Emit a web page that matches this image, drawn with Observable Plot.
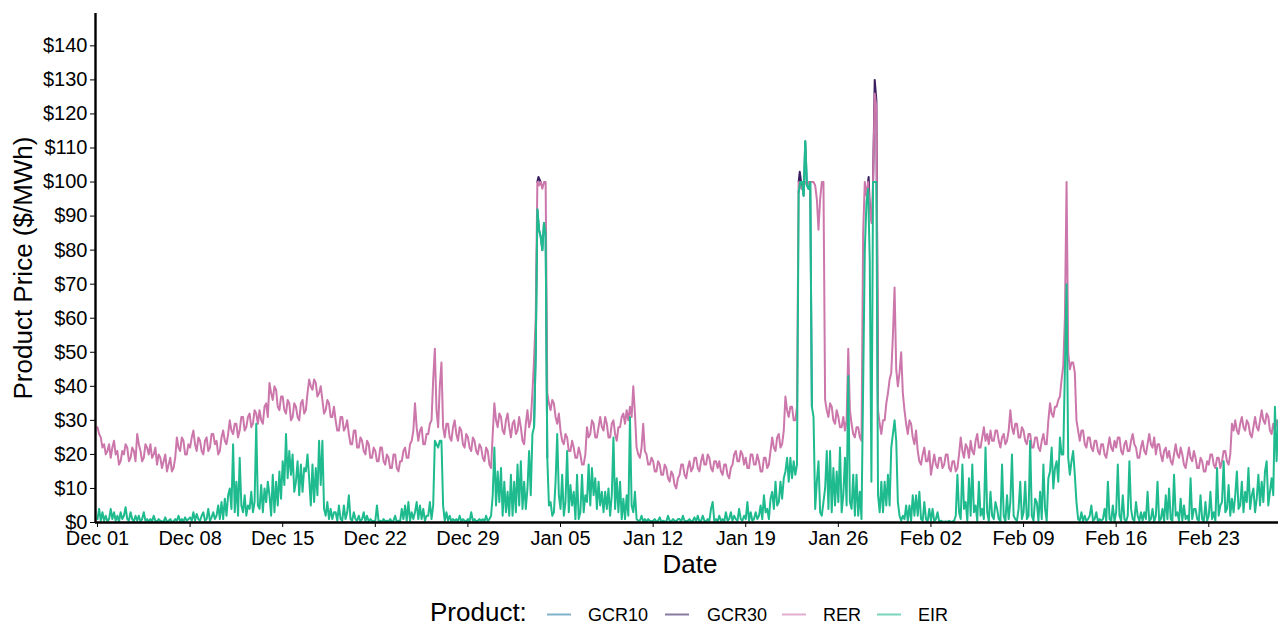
<!DOCTYPE html>
<html><head><meta charset="utf-8">
<script src="https://cdn.jsdelivr.net/npm/d3@7"></script>
<script src="https://cdn.jsdelivr.net/npm/@observablehq/plot@0.6"></script>
<style>
html,body{margin:0;padding:0;background:#fff;overflow:hidden;}
#chart{width:1278px;height:627px;font-family:"Liberation Sans",Arial,Helvetica,sans-serif;}
#chart svg{display:block;}
</style></head><body><div id="chart"></div>
<script>
// ---- categories / styling ----
const products = ["GCR10", "GCR30", "RER", "EIR"];
const productColors = ["#2b7fa8", "#3b1e5f", "#cc77ab", "#1fbb8f"];

// ---- main series: one reading every 3 h from Dec 01 00:00 (8 per day, one row per day) ----
const startIso = "2018-12-01T00:00:00Z";
const stepHours = 3;

// RER ($/MWh)
const rerDec = [
 28,26,25,22,23,20,21,23,  19,22,24,20,21,17,18,21,  20,23,22,18,19,22,21,18,  26,23,21,18,19,23,22,20,
 23,19,20,22,17,20,19,16,  18,20,15,17,19,15,16,19,  25,22,21,25,24,20,20,23,  22,25,27,23,21,25,24,21,
 20,24,25,21,22,26,26,23,  24,20,21,25,27,24,23,26,  30,27,26,29,29,25,27,31,  31,27,28,31,32,28,29,33,
 32,29,33,30,29,34,35,31,  41,38,36,40,39,34,33,37,  37,33,32,36,35,30,31,35,  34,31,30,35,36,32,33,38,
 42,40,39,42,41,37,38,40,  36,32,33,36,35,31,31,34,  30,27,27,31,31,27,28,30,  26,23,23,27,27,22,22,25,
 24,21,20,24,23,19,19,22,  21,18,18,22,22,18,17,20,  19,16,16,20,20,16,15,18,  18,21,22,19,19,23,24,27,
 35,28,24,27,28,23,23,26,  26,29,30,42,51,33,28,40,  47,28,25,29,29,25,24,28,  30,26,24,28,27,23,22,26,
 25,22,21,25,24,21,20,23,  22,19,18,22,21,17,16,26,  35,30,28,32,31,27,26,30
];
const rerJan = [
 32,28,25,29,30,26,27,31,  28,24,23,29,33,28,30,38,  48,60,100,99,100,98,100,100,  38,35,33,36,35,31,29,32,
 27,24,23,26,25,21,21,24,  22,19,19,22,20,17,17,20,  28,25,26,30,29,25,25,28,  31,28,27,31,29,25,25,29,
 30,26,24,28,28,31,32,29,  33,30,34,31,40,32,22,20,  19,22,29,21,20,17,17,19,  18,15,15,18,17,14,14,17,
 16,13,12,15,14,11,10,13,  14,17,17,14,13,16,18,15,  16,19,19,16,15,18,20,17,  17,20,19,16,15,18,18,16,
 18,15,14,17,17,14,13,16,  17,20,21,18,18,21,20,17,  19,16,16,20,20,17,17,20,  18,15,15,19,19,16,17,21,
 25,22,21,25,26,22,23,27,  37,33,31,34,34,30,30,34,  100,99,98,100,100,99,100,100,  100,100,99,95,86,95,100,100,
 36,33,31,35,34,30,29,33,  31,28,28,31,27,30,51,33,  29,26,25,28,28,25,24,85,  100,96,100,92,88,100,126,122,
 33,29,26,30,30,35,38,42,  44,55,69,45,40,44,50,38,  33,29,26,30,29,25,23,27
];
const rerFeb = [
 21,18,17,20,22,18,18,21,  14,17,20,17,16,19,19,16,  17,20,20,16,15,18,18,15,  16,20,25,21,19,23,22,19,
 24,21,20,24,26,22,22,25,  28,24,26,23,27,24,24,27,  27,24,22,25,26,23,24,27,  33,28,26,29,29,25,25,28,
 27,24,23,26,26,22,22,25,  25,22,21,24,26,23,23,30,  35,32,31,34,34,36,37,42,  46,60,100,50,45,47,47,44,
 30,27,24,27,27,23,22,25,  25,22,21,24,24,21,20,23,  23,20,19,22,25,22,21,24,  22,25,25,21,20,23,24,21,
 21,24,26,23,22,19,19,22,  24,21,20,23,26,23,22,25,  20,23,23,20,18,21,22,19,  21,18,17,20,23,20,19,22,
 20,17,16,19,22,19,18,21,  19,16,16,19,18,15,15,18,  17,20,20,17,16,19,19,16,  18,21,21,18,17,20,29,27,
 30,27,26,29,31,28,27,30,  29,26,25,28,31,28,27,30,  33,30,29,32,31,27,26,29,  27,30,28
];

// EIR ($/MWh)
const eirDec = [
 1,4,0.5,3,0.5,2,0.3,1,  4,1,3,0.5,2,0.3,3,1,  2,4.5,1,0.5,3,1,0.3,2,  0.5,2,0.3,1,3,0.5,1,0.3,
 1,0.3,2,0.5,0.3,1,0.5,0.3,  0.3,1.5,0.2,0.5,1,0.2,0.3,1,  0.5,2,0.3,1,0.3,1.5,0.5,1,  1.5,0.5,3,0.5,2.5,1,0.5,2,
 3,0.5,1,4,0.5,1.5,3,1,  2,5,1,6,1,7,2,8,  10,4,23,3,12,2,19,5,  3,8,2,5,4,9,3,6,
 29,5,4,11,3,10,6,12,  8,2,14,3,12,5,15,7,  18,11,26,13,21,14,20,9,  12,18,8,17,9,16,15,20,
 13,5,17,6,16,8,24,11,  24,4,2,6,1,4,1,3,  3,0.5,5,1,0.5,5,1,3,  8,1,0.5,3,1,0.5,2,0.3,
 1,3,0.3,2,0.3,1,0.5,0.3,  0.5,5,0.3,0.5,0.2,1,0.3,0.5,  0.3,1,0.2,0.5,2,0.2,0.5,0.3,  4,1,5,0.5,6,0.5,3,1,
 3,6,1,5,1,4,0.5,2,  2,6,1,5,24,23,22,24,  24,5,0.5,3,0.5,2,0.3,1,  0.5,1,0.3,2,0.3,1,0.5,0.3,
 1,0.3,3,0.5,1,0.3,0.5,1,  0.5,1,0.3,2,0.3,1,2,8,  22,5,15,6,16,2,12,3
];
const eirJan = [
 9,2,14,2,12,3,17,5,  18,4,12,4,10,21,8,26,  28,50,92,86,84,80,88,85,  19,5,6,2,3,12,26,8,
 4,14,2,6,21,3,11,5,  9,1,14,1,3,14,3,8,  6,17,5,16,8,13,4,12,  5,9,3,9,4,10,2,8,
 25,4,13,3,12,1,7,1,  8,2,31,5,3,9,1,0.5,  0.5,2,0.3,1,0.3,1,0.5,0.3,  0.5,1,0.2,0.5,1.5,0.2,0.5,0.3,
 0.3,2,0.5,0.3,1,0.5,0.3,1,  1,0.3,2,0.5,0.3,0.5,1,0.3,  0.5,1.5,0.3,2,0.3,0.5,2,0.5,  0.3,1,0.5,4,6,0.5,1,0.3,
 2,0.5,1,0.3,3,0.5,1,3,  0.5,2,1,0.5,4,1,0.5,2,  1,6,0.5,3,0.5,1,3,1,  2,5,1,8,3,4,1,7,
 9,4,12,5,6,12,7,13,  15,19,12,19,13,18,14,17,  97,100,100,96,112,99,98,100,  34,31,4,12,18,3,2,6,
 10,21,4,21,3,16,5,15,  6,22,3,8,19,5,43,6,  4,14,2,14,2,9,1,40,  80,94,98,77,12,100,100,100,
 8,3,12,3,12,5,14,5,  22,26,30,24,6,2,0.5,2,  1,5,0.5,5,0.5,8,2,8
];
const eirFeb = [
 2,9,1,0.5,6,1,0.3,4,  0.5,4,0.3,1,3,0.2,0.5,0.3,  0.2,0.3,0.2,0.5,0.2,0.3,0.5,2,  14,3,1,17,4,6,0.5,13,
 2,17,3,5,0.5,12,2,4,  1,22,3,0.5,9,2,1,6,  4,1,0.5,17,2,0.3,8,1,  6,20,2,1,0.5,4,12,1,
 3,12,1,2,24,2,0.5,7,  6,0.5,9,1,17,4,0.5,13,  15,22,10,16,18,12,25,20,  20,45,70,19,14,18,21,14,
 6,1,0.5,3,0.3,2,0.5,1,  2,5,0.5,1,3,0.3,1,0.5,  1,4,0.5,12,1,0.5,5,0.3,  3,17,2,0.5,8,1,0.3,2,
 18,4,1,0.5,6,2,0.5,3,  0.5,3,1,9,0.5,1,4,0.3,  2,12,0.5,1,4,0.3,8,1,  10,1,0.5,14,2,3,0.5,7,
 0.5,5,1,2,0.3,13,1,4,  4,1,0.5,8,1,0.3,6,0.5,  2,9,1,3,0.5,16,2,5,  6,18,3,4,11,2,7,3,
 8,15,4,5,12,3,9,6,  16,4,8,10,3,7,14,5,  12,6,15,18,5,9,13,8,  34,18,30
];

// GCR30 / GCR10: only the stretches where they can be told apart (null = gap)
const gcr30Dates = [
 "2019-01-03T06:00Z","2019-01-03T08:00Z","2019-01-03T12:00Z","2019-01-03T13:00Z",
 "2019-01-23T00:00Z","2019-01-23T02:00Z","2019-01-23T06:00Z","2019-01-23T07:00Z",
 "2019-01-28T06:00Z","2019-01-28T07:00Z","2019-01-28T09:00Z","2019-01-28T10:00Z",
 "2019-01-28T15:00Z","2019-01-28T18:00Z","2019-01-28T21:00Z","2019-01-29T00:00Z"
];
const gcr30Values = [100,101.5,100,null, 100,103,98,null, 100,101.5,92,null, 100,130,124,33];

const gcr10Dates = [
 "2019-01-03T00:00Z","2019-01-03T03:00Z","2019-01-03T06:00Z","2019-01-03T09:00Z","2019-01-03T12:00Z",
 "2019-01-03T15:00Z","2019-01-03T18:00Z","2019-01-03T21:00Z","2019-01-04T00:00Z","2019-01-04T01:00Z",
 "2019-01-23T00:00Z","2019-01-23T03:00Z","2019-01-23T06:00Z","2019-01-23T09:00Z","2019-01-23T12:00Z",
 "2019-01-23T15:00Z","2019-01-23T18:00Z","2019-01-23T21:00Z","2019-01-24T00:00Z"
];
const gcr10Values = [28,50,92,86,84,80,88,85,19,null, 97,100,100,96,112,99,98,100,34];

// ---- axes ----
const xTickDates = ["2018-12-01","2018-12-08","2018-12-15","2018-12-22","2018-12-29","2019-01-05",
  "2019-01-12","2019-01-19","2019-01-26","2019-02-02","2019-02-09","2019-02-16","2019-02-23"];
const yTicks = [0,10,20,30,40,50,60,70,80,90,100,110,120,130,140];
const xDomain = ["2018-11-30T20:24:00Z", "2019-02-28T06:30:00Z"];
const yDomain = [0, 149.5];

// ---- build tables ----
function regular(name, values) {
  const t0 = Date.parse(startIso);
  return values.map((v, i) => ({product: name, date: new Date(t0 + i * stepHours * 3600e3), value: v}));
}
function listed(name, dates, values) {
  return dates.map((d, i) => ({product: name, date: new Date(d), value: values[i]}));
}
const rer = regular("RER", rerDec.concat(rerJan, rerFeb));
const eir = regular("EIR", eirDec.concat(eirJan, eirFeb));
const gcr30 = listed("GCR30", gcr30Dates, gcr30Values);
const gcr10 = listed("GCR10", gcr10Dates, gcr10Values);

const lineOpts = {x: "date", y: "value", stroke: "product", strokeWidth: 2, strokeLinejoin: "round"};
const font = "'Liberation Sans', Arial, Helvetica, sans-serif";

const plot = Plot.plot({
  width: 1278, height: 590,
  marginLeft: 95, marginRight: 0, marginTop: 13, marginBottom: 68,
  x: {type: "utc", domain: xDomain.map(d => new Date(d))},
  y: {domain: yDomain},
  color: {domain: products, range: productColors},
  style: {fontFamily: font, fontSize: "20px", color: "#000", background: "#fff", overflow: "visible"},
  marks: [
    Plot.line(gcr10, lineOpts),
    Plot.line(gcr30, lineOpts),
    Plot.line(rer, lineOpts),
    Plot.line(eir, lineOpts),
    Plot.ruleY([0], {strokeWidth: 2.4, stroke: "#000"}),
    Plot.ruleX([new Date(xDomain[0])], {strokeWidth: 2.4, stroke: "#000"}),
    Plot.axisX({ticks: xTickDates.map(d => new Date(d + "T00:00:00Z")), tickFormat: d3.utcFormat("%b %d"),
      tickSize: 5, tickPadding: 3, fontSize: 20, label: null}),
    Plot.axisY({ticks: yTicks, tickFormat: d => "$" + d, tickSize: 5, tickPadding: 3, fontSize: 20, label: null}),
    Plot.text(["Product Price ($/MWh)"], {text: d => d, frameAnchor: "left", textAnchor: "middle", lineAnchor: "middle",
      dx: -72, rotate: -90, fontSize: 26}),
    Plot.text(["Date"], {text: d => d, frameAnchor: "bottom", textAnchor: "middle", lineAnchor: "middle",
      dx: 3, dy: 42, fontSize: 26})
  ]
});
document.getElementById("chart").appendChild(plot);

// ---- legend ----
const legendTitle = "Product:";
const legendLineX = [547, 665, 782, 877];
const legendLabelX = [588, 707, 823, 918];
const leg = d3.create("svg").attr("width", 1278).attr("height", 37)
  .style("font-family", font).style("overflow", "visible");
leg.append("text").attr("x", 430).attr("y", 31).attr("font-size", 26).attr("fill", "#000").text(legendTitle);
products.forEach((p, i) => {
  leg.append("line").attr("x1", legendLineX[i]).attr("x2", legendLineX[i] + 24)
    .attr("y1", 24.5).attr("y2", 24.5).attr("stroke", productColors[i]).attr("stroke-width", 2).attr("stroke-opacity", 0.6);
  leg.append("text").attr("x", legendLabelX[i]).attr("y", 31).attr("font-size", 18).attr("fill", "#000").text(p);
});
document.getElementById("chart").appendChild(leg.node());
</script>
</body></html>
